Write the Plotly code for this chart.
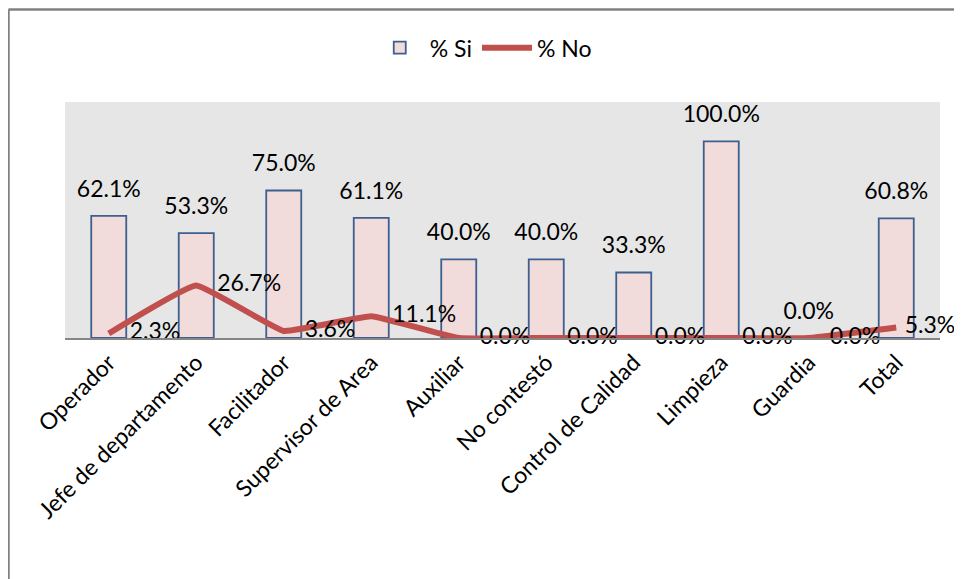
import plotly.graph_objects as go

categorias = ["Operador", "Jefe de departamento", "Facilitador", "Supervisor de Area",
              "Auxiliar", "No contestó", "Control de Calidad", "Limpieza", "Guardia", "Total"]
pct_si = [62.1, 53.3, 75.0, 61.1, 40.0, 40.0, 33.3, 100.0, 0.0, 60.8]
pct_no = [2.3, 26.7, 3.6, 11.1, 0.0, 0.0, 0.0, 0.0, 0.0, 5.3]

FONT = "Lato"
SIZE = 23

si = [v / 100 for v in pct_si]
no = [v / 100 for v in pct_no]

fig = go.Figure()
fig.add_trace(go.Bar(
    x=categorias, y=si, name="% Si",
    marker=dict(color="#F2DCDB", line=dict(color="#3C5F8F", width=1.8)),
))
fig.add_trace(go.Scatter(
    x=categorias, y=no, name="% No", mode="lines",
    line=dict(color="#C0504D", width=6, shape="spline", smoothing=0.3),
))
# labels as text traces; invisible markers push the text away from the point
fig.add_trace(go.Scatter(
    x=categorias, y=si, mode="markers+text", showlegend=False, hoverinfo="skip",
    marker=dict(size=20, opacity=0),
    text=[f"{v:.1f}%" for v in pct_si], textposition="top center",
    textfont=dict(size=SIZE, color="black"), cliponaxis=False,
))
fig.add_trace(go.Scatter(
    x=categorias, y=no, mode="markers+text", showlegend=False, hoverinfo="skip",
    marker=dict(size=[32] * 9 + [12], opacity=0),
    text=[f"{v:.1f}%" for v in pct_no], textposition="middle right",
    textfont=dict(size=SIZE, color="black"), cliponaxis=False,
))

# the page body has an 8px margin, so the figure is shifted by 8px
fig.update_layout(
    width=954, height=571,
    margin=dict(l=57, r=22, t=94, b=241, autoexpand=False),
    paper_bgcolor="white", plot_bgcolor="#E6E6E6",
    font=dict(family=FONT, size=SIZE, color="black"),
    bargap=0.6,
    showlegend=True,
    legend=dict(orientation="h", x=0.478, xanchor="center", y=1.23, yanchor="middle",
                font=dict(size=SIZE), bgcolor="rgba(0,0,0,0)", itemwidth=50),
    shapes=[
        dict(type="line", xref="paper", yref="paper", x0=-0.0646, x1=1.05, y0=1.392, y1=1.392,
             line=dict(color="#808080", width=2.5)),
        dict(type="line", xref="paper", yref="paper", x0=-0.0646, x1=-0.0646, y0=1.392, y1=-1.1,
             line=dict(color="#808080", width=2.5)),
    ],
)
fig.update_xaxes(range=[-0.5, len(categorias) - 0.5], tickangle=-45, showline=True,
                 linecolor="#868686", linewidth=2, ticks="", showgrid=False,
                 tickfont=dict(size=SIZE), automargin=False)
fig.update_yaxes(range=[0, 1.2], visible=False, showgrid=False, zeroline=False)

fig.write_html("out.html")
